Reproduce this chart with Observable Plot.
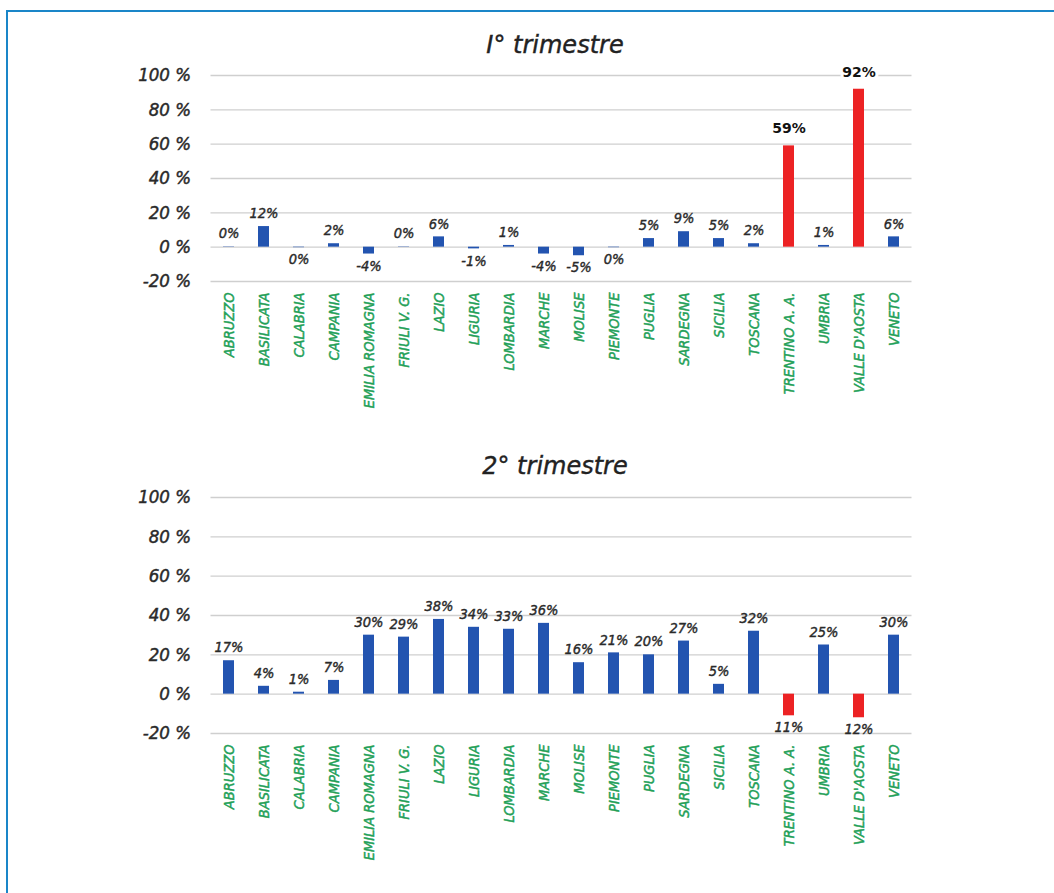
<!DOCTYPE html>
<html><head><meta charset="utf-8">
<script src="https://cdn.jsdelivr.net/npm/d3@7"></script>
<script src="https://cdn.jsdelivr.net/npm/@observablehq/plot@0.6"></script>
<style>
body{margin:0;background:#fff;width:1054px;height:893px;position:relative;overflow:hidden;font-family:"DejaVu Sans Condensed","DejaVu Sans",sans-serif}
#frame{position:absolute;left:6px;top:10px;right:-4px;bottom:-4px;border-top:2px solid #1a86c8;border-left:2px solid #1a86c8}
.title{position:absolute;left:0;width:1110px;text-align:center;font-style:italic;font-size:24px;line-height:24px;color:#222;font-family:"DejaVu Sans",sans-serif;-webkit-text-stroke:0.4px #222}
.chart{position:absolute;left:0}
.chart svg{overflow:visible}
.chart g[aria-label="x-axis tick label"] text{stroke:#23a058;stroke-width:0.45px}
.chart g[aria-label="y-axis tick label"] text{stroke:#2a2a2a;stroke-width:0.45px}
.chart g.vlab text{stroke:#2a2a2a;stroke-width:0.4px}
</style>
</head><body>
<div id="frame"></div>
<div class="title" style="top:33px">I° trimestre</div>
<div class="title" style="top:454px">2° trimestre</div>
<div class="chart" id="c1" style="top:55px"></div>
<div class="chart" id="c2" style="top:477px"></div>
<script>
const regions = ["ABRUZZO","BASILICATA","CALABRIA","CAMPANIA","EMILIA ROMAGNA","FRIULI V. G.","LAZIO","LIGURIA","LOMBARDIA","MARCHE","MOLISE","PIEMONTE","PUGLIA","SARDEGNA","SICILIA","TOSCANA","TRENTINO A. A.","UMBRIA","VALLE D'AOSTA","VENETO"];
const q1Values = [0.2,12,-0.3,2,-4,0.2,6,-1,1,-4,-5,-0.3,5,9,5,2,59,1,92,6];
const q1Labels = ["0%","12%","0%","2%","-4%","0%","6%","-1%","1%","-4%","-5%","0%","5%","9%","5%","2%","59%","1%","92%","6%"];
const q2Values = [17,4,1,7,30,29,38,34,33,36,16,21,20,27,5,32,-11,25,-12,30];
const q2Labels = ["17%","4%","1%","7%","30%","29%","38%","34%","33%","36%","16%","21%","20%","27%","5%","32%","11%","25%","12%","30%"];
const highlighted = ["TRENTINO A. A.","VALLE D'AOSTA"];
const yTicks = [-20,0,20,40,60,80,100];

const BLUE = "#2354b0", RED = "#ec2224", GREEN = "#23a058", GRID = "#cfcfcf", INK = "#2a2a2a";

function build(id, values, labels, plotH, bold) {
  const data = regions.map((r, i) => ({region: r, value: values[i], label: labels[i], hi: highlighted.includes(r)}));
  const normal = data.filter(d => !(bold && d.hi));
  const boldData = data.filter(d => bold && d.hi);
  const p = Plot.plot({
    width: 1054,
    height: 20 + plotH + 152,
    marginTop: 20,
    marginBottom: 152,
    marginLeft: 210.5,
    marginRight: 1054 - 911.5,
    style: {fontFamily: '"DejaVu Sans Condensed","DejaVu Sans",sans-serif', background: "transparent"},
    x: {domain: regions, paddingInner: 0.68, paddingOuter: 0.34, axis: null},
    y: {domain: [-20, 100], axis: null},
    marks: [
      Plot.ruleY(yTicks, {stroke: GRID, strokeWidth: 1.3}),
      Plot.barY(data, {x: "region", y: "value", fill: d => d.hi ? RED : BLUE}),
      Plot.text(normal.filter(d => d.value >= 0), {x: "region", y: "value", text: "label", dy: -13, fontSize: 14.5, fontStyle: "italic", fill: INK, className: "vlab"}),
      Plot.text(normal.filter(d => d.value < 0), {x: "region", y: "value", text: "label", dy: 12, fontSize: 14.5, fontStyle: "italic", fill: INK, className: "vlab"}),
      Plot.text(boldData, {x: "region", y: "value", text: "label", dy: -17, fontSize: 14, fontWeight: "bold",
        fill: "#111", stroke: "white", strokeWidth: 6, fontFamily: '"DejaVu Sans",sans-serif'}),
      Plot.axisY({ticks: yTicks, tickFormat: d => `${d} %`, tickSize: 0, tickPadding: 20, fontSize: 18.5, fontStyle: "italic", fill: INK, label: null}),
      Plot.axisX({tickRotate: -90, tickSize: 0, tickPadding: 11, fontSize: 14.5, fontStyle: "italic", fill: GREEN, label: null})
    ]
  });
  document.getElementById(id).appendChild(p);
}

build("c1", q1Values, q1Labels, 206, true);
build("c2", q2Values, q2Labels, 236, false);
</script>
</body></html>
